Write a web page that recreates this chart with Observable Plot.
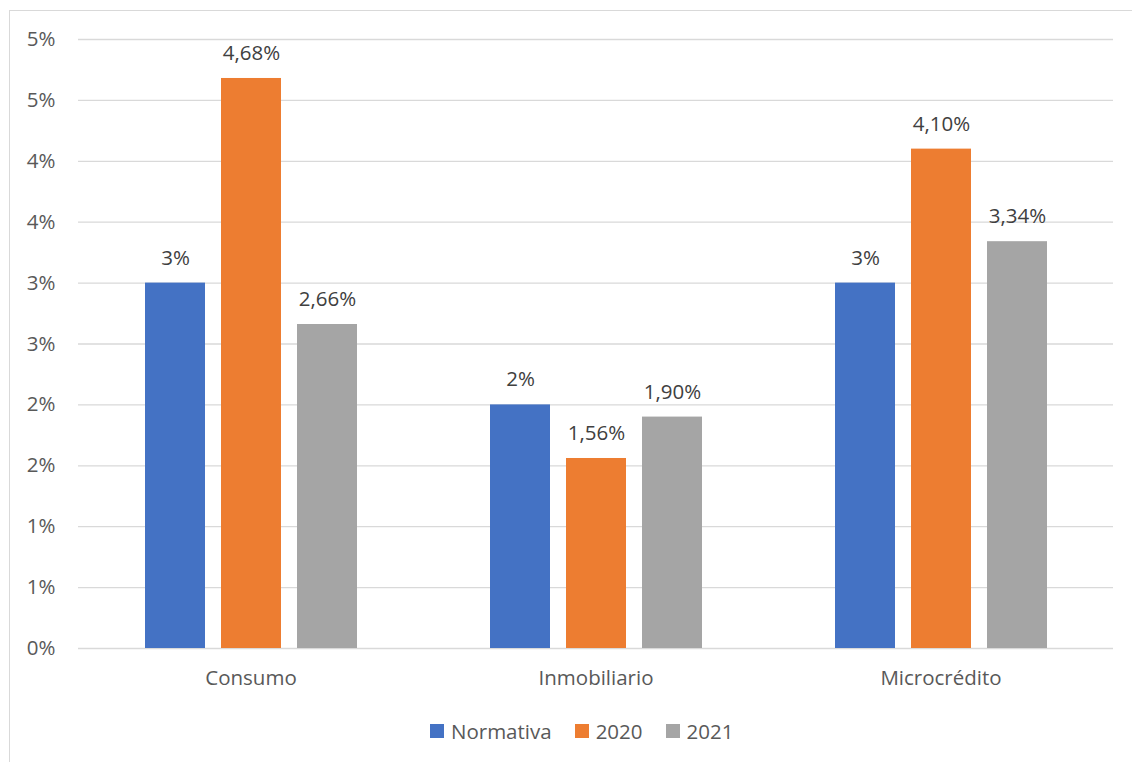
<!DOCTYPE html>
<html>
<head>
<meta charset="utf-8">
<script src="https://cdn.jsdelivr.net/npm/d3@7"></script>
<script src="https://cdn.jsdelivr.net/npm/@observablehq/plot@0.6"></script>
<style>
  html, body { margin: 0; padding: 0; background: #ffffff; width: 1132px; height: 762px; overflow: hidden; }
  #frame { position: absolute; left: 9px; top: 10px; width: 1200px; height: 800px; border: 1.5px solid #d9d9d9; box-sizing: border-box; }
  #grid, #chart { position: absolute; left: 0; top: 0; }
  #legend { position: absolute; left: 430px; top: 717px; display: flex; align-items: center; font-family: "Open Sans", sans-serif; font-size: 20.5px; color: #595959; }
  #legend .item { display: flex; align-items: center; margin-right: 23px; }
  #legend .sw { width: 14px; height: 14px; margin-right: 7px; }
</style>
</head>
<body>
<div id="frame"></div>
<div id="grid"></div>
<div id="chart"></div>
<div id="legend"></div>
<script>
const categories = ["Consumo", "Inmobiliario", "Microcrédito"];
const series = ["Normativa", "2020", "2021"];
const colors = ["#4472C4", "#ED7D31", "#A5A5A5"];
const normativa = [3, 2, 3];
const values2020 = [4.68, 1.56, 4.10];
const values2021 = [2.66, 1.90, 3.34];
const normativaLabels = ["3%", "2%", "3%"];
const labels2020 = ["4,68%", "1,56%", "4,10%"];
const labels2021 = ["2,66%", "1,90%", "3,34%"];
const yTicks = [0, 0.5, 1, 1.5, 2, 2.5, 3, 3.5, 4, 4.5, 5];
const yTickLabels = ["0%", "1%", "1%", "2%", "2%", "3%", "3%", "4%", "4%", "5%", "5%"];

const seriesValues = [normativa, values2020, values2021];
const seriesLabels = [normativaLabels, labels2020, labels2021];
const data = [];
categories.forEach((c, ci) => {
  series.forEach((s, si) => {
    data.push({cat: c, series: s, value: seriesValues[si][ci], label: seriesLabels[si][ci]});
  });
});

const common = {
  width: 1132,
  height: 700,
  marginLeft: 78,
  marginRight: 19,
  marginTop: 39,
  marginBottom: 52,
  style: {fontFamily: "Open Sans, sans-serif", fontSize: "20.5px", color: "#595959", background: "transparent", overflow: "visible"}
};

// Background: horizontal gridlines and the y axis, spanning the whole plot area
const grid = Plot.plot({
  ...common,
  x: {axis: null},
  y: {domain: [0, 5], label: null},
  marks: [
    Plot.ruleY(yTicks, {stroke: "#d9d9d9", strokeWidth: 1.3}),
    Plot.axisY(yTicks, {tickFormat: d => yTickLabels[yTicks.indexOf(d)], tickSize: 0, tickPadding: 23, label: null, fill: "#595959", fontSize: 20.5})
  ]
});
document.getElementById("grid").appendChild(grid);

// Foreground: grouped bars via fx facets
const chart = Plot.plot({
  ...common,
  fx: {domain: categories, paddingInner: 0.383, paddingOuter: 0.188, label: null},
  x: {domain: series, paddingInner: 0.216, paddingOuter: 0, axis: null},
  y: {domain: [0, 5], label: null, axis: null},
  color: {domain: series, range: colors},
  marks: [
    Plot.barY(data, {fx: "cat", x: "series", y: "value", fill: "series"}),
    Plot.text(data, {fx: "cat", x: "series", y: "value", text: "label", dy: -25, fill: "#404040", fontSize: 20.5}),
    Plot.axisFx({anchor: "bottom", tickSize: 0, tickPadding: 22, label: null, fill: "#595959", fontSize: 20.5})
  ]
});
document.getElementById("chart").appendChild(chart);

const legend = document.getElementById("legend");
series.forEach((s, i) => {
  const item = document.createElement("div");
  item.className = "item";
  const sw = document.createElement("div");
  sw.className = "sw";
  sw.style.background = colors[i];
  const t = document.createElement("span");
  t.textContent = s;
  item.appendChild(sw);
  item.appendChild(t);
  legend.appendChild(item);
});
</script>
</body>
</html>
